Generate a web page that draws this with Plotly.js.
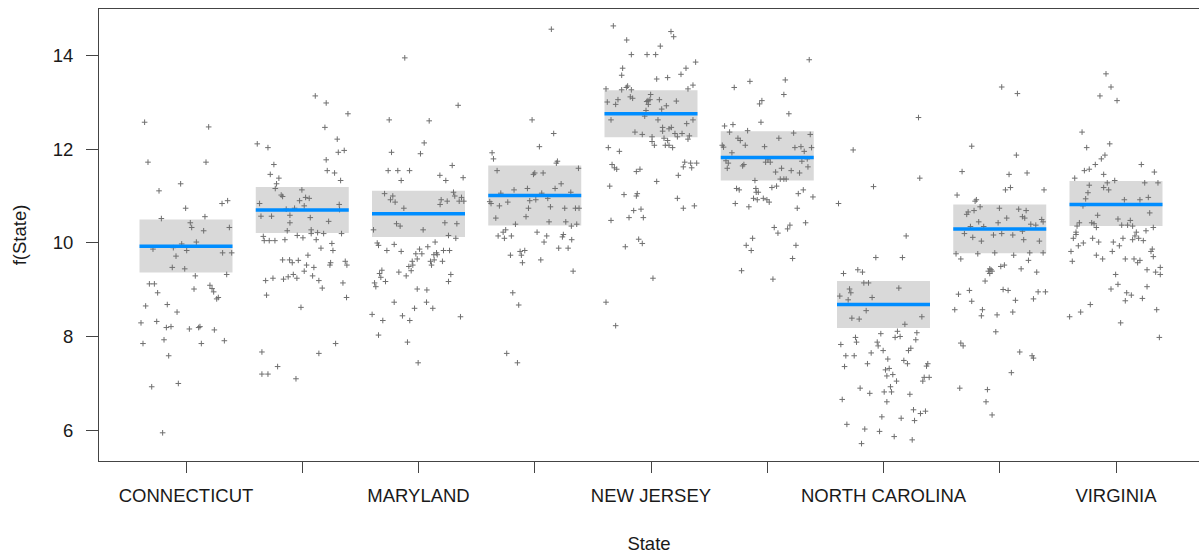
<!DOCTYPE html>
<html>
<head>
<meta charset="utf-8">
<script src="https://cdn.plot.ly/plotly-3.0.1.min.js"></script>
<style>
  html, body { margin: 0; padding: 0; background: #ffffff; }
  #chart { width: 1199px; height: 554px; }
</style>
</head>
<body>
<div id="chart"></div>
<script>
// States on the x axis (only every other name fits under the axis)
const states = ["CONNECTICUT", "DELAWARE", "MARYLAND", "MASSACHUSETTS", "NEW JERSEY",
                "NEW YORK", "NORTH CAROLINA", "PENNSYLVANIA", "VIRGINIA"];
const shownLabel = [true, false, true, false, true, false, true, false, true];

// Fitted effect of State with its confidence band
const fitValues = [9.93, 10.70, 10.62, 11.01, 12.75, 11.82, 8.69, 10.30, 10.82];
const lowerCI   = [9.37, 10.21, 10.13, 10.37, 12.25, 11.33, 8.19, 9.78, 10.36];
const upperCI   = [10.50, 11.19, 11.11, 11.65, 13.25, 12.38, 9.19, 10.82, 11.32];

// Partial residuals per state: horizontal jitter (category units) and value
const dxCT = [-0.356,0.195,-0.327,0.172,-0.046,-0.232,0.310,0.358,-0.003,-0.212,0.163,0.037,0.049,0.152,0.373,0.089,-0.037,-0.284,-0.109,0.006,-0.086,0.315,0.393,-0.118,-0.011,0.350,0.080,-0.315,-0.272,-0.244,0.069,0.206,0.224,0.238,0.264,0.278,-0.347,-0.161,-0.077,-0.387,-0.252,-0.169,-0.129,0.029,0.109,0.120,0.244,-0.370,-0.189,0.132,0.330,-0.149,-0.295,-0.066,-0.201];
const yCT  = [12.57,12.47,11.72,11.72,11.26,11.11,10.84,10.90,10.74,10.52,10.56,10.43,10.33,10.26,10.33,10.02,9.98,9.87,9.90,9.84,9.72,9.79,9.79,9.48,9.45,9.33,9.30,9.13,9.13,8.94,9.02,9.10,9.03,8.96,8.81,8.84,8.66,8.69,8.53,8.30,8.33,8.20,8.22,8.17,8.20,8.22,8.15,7.86,7.94,7.86,7.92,7.60,6.94,7.01,5.96];

const dxDE = [0.112,0.206,0.393,0.195,-0.387,-0.295,0.301,0.310,0.361,0.206,-0.244,-0.275,-0.201,0.215,0.278,0.330,-0.221,-0.232,-0.003,-0.181,-0.169,0.029,0.060,-0.023,-0.367,0.017,0.318,-0.066,-0.138,0.321,-0.355,-0.264,-0.106,0.069,-0.106,0.227,-0.129,0.077,0.077,0.132,0.184,0.338,-0.335,-0.327,-0.284,-0.235,-0.149,-0.043,0.006,0.120,0.255,0.161,0.264,0.049,-0.169,-0.109,-0.086,-0.034,0.244,0.238,0.370,0.384,0.037,0.100,0.017,-0.077,-0.121,-0.046,-0.161,-0.252,-0.315,0.089,0.143,0.172,0.350,-0.307,0.381,-0.011,0.287,-0.347,0.143,-0.212,-0.347,-0.295,-0.054];
const yDE  = [13.13,12.98,12.75,12.46,12.11,12.03,12.21,11.93,11.97,11.77,11.67,11.46,11.38,11.54,11.49,11.33,11.26,11.16,11.13,11.02,10.99,10.97,10.95,10.90,10.84,10.79,10.82,10.74,10.72,10.71,10.57,10.57,10.59,10.54,10.43,10.46,10.26,10.28,10.20,10.22,10.20,10.20,10.14,10.05,10.05,10.05,10.07,10.16,10.11,10.07,9.99,9.89,9.84,9.74,9.64,9.64,9.58,9.63,9.58,9.53,9.61,9.53,9.53,9.48,9.40,9.33,9.28,9.25,9.23,9.25,9.20,9.30,9.20,9.04,9.15,8.89,8.84,8.63,7.86,7.68,7.65,7.37,7.21,7.21,7.11];

const dxMD = [-0.118,0.341,-0.252,0.092,0.049,-0.232,0.017,-0.261,-0.178,-0.077,0.290,0.184,0.235,0.384,-0.149,-0.292,-0.221,-0.241,-0.201,0.301,0.312,0.370,0.195,0.247,0.350,0.390,0.186,-0.126,-0.189,-0.158,0.227,0.330,-0.387,0.040,0.258,0.321,0.143,-0.355,-0.344,-0.209,-0.272,-0.149,0.080,0.009,-0.023,0.029,-0.011,-0.054,0.132,0.155,0.161,0.215,0.267,0.103,0.135,0.206,0.112,-0.049,-0.083,-0.063,-0.315,-0.335,-0.324,-0.169,-0.106,-0.284,-0.378,-0.367,0.278,0.258,-0.011,0.072,-0.209,0.069,-0.034,0.123,-0.399,-0.138,0.361,-0.307,-0.075,-0.344,-0.095,-0.003];
const yMD  = [13.94,12.93,12.62,12.60,12.13,11.93,11.90,11.54,11.54,11.54,11.65,11.44,11.33,11.39,11.33,11.05,11.00,10.92,10.87,11.08,11.00,10.97,10.92,10.89,10.89,10.89,10.82,10.74,10.41,10.36,10.43,10.41,10.28,10.28,10.16,10.10,10.02,10.00,9.95,9.97,9.84,9.82,9.92,9.87,9.77,9.77,9.66,9.61,9.75,9.79,9.75,9.84,9.84,9.61,9.64,9.61,9.53,9.53,9.50,9.41,9.42,9.35,9.27,9.38,9.30,9.18,9.15,9.07,9.33,9.18,9.02,9.00,8.74,8.74,8.61,8.61,8.48,8.45,8.43,8.35,8.35,8.04,7.89,7.45];

const dxMA = [0.143,-0.023,0.163,0.040,-0.367,-0.355,0.195,0.186,0.376,-0.324,-0.011,0.000,0.072,0.227,0.175,-0.063,-0.178,0.310,-0.292,0.060,0.112,0.009,-0.043,-0.387,-0.376,-0.232,-0.304,0.135,-0.054,0.258,0.350,0.381,-0.075,-0.335,-0.166,0.123,0.267,0.361,0.315,-0.250,-0.272,-0.315,-0.261,-0.201,0.020,0.103,0.246,0.238,0.318,0.080,0.206,0.287,-0.086,-0.126,-0.115,-0.209,0.052,-0.106,0.330,-0.189,-0.138,-0.241,-0.149];
const yMA  = [14.55,12.62,12.33,12.05,11.92,11.79,11.74,11.70,11.59,11.54,11.46,11.49,11.49,11.26,11.16,11.16,11.13,11.08,11.06,11.06,10.95,10.92,10.90,10.88,10.84,10.87,10.79,10.77,10.74,10.74,10.74,10.74,10.56,10.53,10.40,10.45,10.45,10.40,10.36,10.28,10.23,10.15,10.10,10.15,10.23,10.15,10.18,10.13,10.07,10.02,9.89,9.89,9.84,9.82,9.74,9.74,9.64,9.58,9.40,8.94,8.68,7.65,7.45];

const dxNJ = [-0.324,0.172,0.195,-0.209,0.080,-0.169,-0.034,0.040,0.384,-0.244,0.301,-0.252,0.258,0.143,0.049,0.361,-0.387,-0.252,-0.212,-0.201,-0.169,0.318,-0.003,-0.178,-0.158,-0.026,-0.009,-0.037,0.072,0.218,-0.376,-0.284,-0.304,-0.023,0.132,0.092,-0.043,-0.054,-0.344,0.060,0.361,0.307,0.100,0.175,0.155,0.100,-0.138,0.206,0.267,-0.075,0.330,0.227,0.009,0.112,0.318,0.143,0.009,0.029,0.123,0.155,0.186,-0.367,-0.272,-0.335,-0.315,-0.295,-0.126,-0.095,0.290,0.341,0.393,0.278,0.350,0.235,0.049,-0.355,-0.232,-0.126,-0.118,0.227,0.373,0.278,-0.149,-0.086,-0.189,-0.066,-0.344,-0.106,-0.075,-0.221,0.017,-0.387,-0.304];
const yNJ  = [14.62,14.50,14.39,14.32,14.19,14.01,14.01,14.01,13.85,13.72,13.72,13.57,13.59,13.52,13.49,13.36,13.28,13.26,13.31,13.34,13.26,13.28,13.16,13.11,13.08,13.03,13.05,13.01,13.05,13.02,13.00,13.05,12.95,12.95,12.92,12.85,12.82,12.70,12.62,12.62,12.62,12.54,12.46,12.46,12.43,12.38,12.36,12.33,12.33,12.31,12.28,12.26,12.26,12.23,12.21,12.18,12.16,12.08,12.08,12.08,12.03,12.03,11.95,11.67,11.60,11.57,11.52,11.57,11.72,11.70,11.70,11.62,11.60,11.44,11.31,11.21,11.03,11.00,11.05,10.95,10.79,10.74,10.69,10.72,10.54,10.54,10.48,10.08,9.99,9.92,9.25,8.74,8.24];

const dxNY = [0.361,-0.149,0.155,-0.284,0.143,-0.046,-0.066,0.186,-0.054,-0.367,-0.295,-0.169,-0.324,0.227,0.370,-0.252,-0.232,0.100,-0.189,-0.387,-0.376,-0.023,0.238,0.290,0.381,0.318,-0.304,0.344,-0.355,-0.335,0.006,-0.014,0.026,0.298,-0.201,-0.212,-0.344,0.350,0.123,0.206,0.072,0.278,0.112,0.143,0.163,-0.106,0.080,0.040,-0.264,-0.241,-0.098,-0.095,-0.077,0.310,0.267,-0.118,-0.086,-0.034,-0.003,0.017,0.393,-0.275,-0.158,0.258,0.330,0.195,0.175,0.060,0.092,-0.126,-0.181,-0.138,0.247,0.218,-0.221,0.049];
const yNY  = [13.90,13.44,13.47,13.31,13.16,13.03,12.96,12.75,12.57,12.49,12.52,12.39,12.36,12.34,12.31,12.23,12.18,12.23,12.08,12.08,12.04,12.05,12.03,12.05,12.03,11.95,11.92,11.79,11.75,11.70,11.77,11.72,11.72,11.74,11.67,11.64,11.59,11.62,11.59,11.54,11.51,11.49,11.36,11.36,11.36,11.33,11.21,11.18,11.16,11.13,11.16,11.08,11.08,11.13,11.05,10.95,10.92,10.95,10.92,10.87,10.98,10.84,10.77,10.74,10.43,10.38,10.30,10.33,10.21,10.10,9.95,9.84,9.95,9.67,9.41,9.23];

const dxNC = [0.301,-0.261,0.312,-0.086,-0.387,0.195,-0.066,0.163,-0.344,-0.221,-0.181,-0.169,-0.129,0.132,-0.292,-0.281,-0.376,-0.098,-0.304,-0.149,0.330,-0.272,-0.209,0.184,0.120,0.287,-0.023,0.143,0.100,-0.241,0.278,-0.367,-0.232,-0.054,-0.046,0.235,0.215,-0.003,-0.106,-0.324,-0.252,0.037,0.175,0.206,-0.138,-0.335,0.381,0.370,0.017,0.049,0.080,0.029,0.350,0.393,0.338,0.112,0.060,-0.201,0.006,0.069,-0.118,0.227,-0.355,0.029,0.258,0.318,0.361,-0.014,0.152,0.267,-0.315,-0.161,-0.034,0.092,0.247,-0.189];
const yNC  = [12.67,11.98,11.38,11.20,10.84,10.15,9.69,9.69,9.35,9.43,9.38,9.15,9.15,9.04,9.02,8.94,8.87,8.84,8.79,8.56,8.43,8.40,8.38,8.27,8.12,8.09,8.07,8.01,7.99,7.99,7.94,7.84,7.89,7.89,7.81,7.76,7.71,7.71,7.66,7.60,7.60,7.53,7.50,7.43,7.43,7.37,7.43,7.38,7.30,7.33,7.20,7.17,7.14,7.14,7.06,7.06,6.94,6.91,6.83,6.83,6.80,6.78,6.67,6.62,6.45,6.37,6.42,6.30,6.27,6.22,6.14,6.04,5.99,5.88,5.81,5.73];

const dxPA = [0.017,0.152,-0.241,0.143,-0.324,0.080,0.235,0.049,0.092,0.381,-0.367,-0.212,-0.201,-0.169,-0.003,0.163,0.227,-0.272,-0.284,-0.221,0.195,0.215,0.060,0.361,0.373,-0.181,-0.014,0.267,0.310,-0.252,-0.138,0.195,-0.304,-0.054,0.017,0.112,-0.232,0.206,-0.158,0.341,-0.376,-0.189,-0.043,0.120,0.258,0.373,-0.335,0.247,0.009,0.040,0.184,-0.086,-0.075,-0.098,-0.066,-0.086,0.318,-0.126,0.029,0.072,-0.261,0.330,0.393,-0.355,0.135,0.290,-0.241,-0.387,-0.149,0.112,-0.023,-0.158,-0.034,-0.335,-0.315,0.172,0.278,0.290,0.100,-0.344,-0.106,-0.118,-0.066];
const yPA  = [13.32,13.18,12.06,11.87,11.52,11.46,11.49,11.13,11.18,11.13,11.02,10.89,10.92,10.77,10.74,10.72,10.69,10.66,10.61,10.69,10.56,10.53,10.53,10.50,10.45,10.45,10.43,10.40,10.38,10.35,10.35,10.25,10.20,10.17,10.20,10.17,10.12,10.07,10.04,10.04,9.77,9.77,9.79,9.74,9.79,9.79,9.66,9.63,9.50,9.53,9.45,9.45,9.43,9.40,9.40,9.35,9.38,9.19,9.01,8.99,8.99,8.96,8.96,8.91,8.78,8.81,8.76,8.58,8.58,8.53,8.47,8.45,8.11,7.87,7.81,7.68,7.60,7.55,7.24,6.91,6.88,6.62,6.34];

const dxVA = [-0.086,-0.043,-0.138,0.009,-0.292,-0.054,-0.252,-0.095,-0.126,-0.178,0.218,-0.230,-0.272,0.330,-0.106,-0.355,-0.011,-0.075,0.247,0.361,-0.230,-0.106,-0.063,-0.241,0.278,-0.261,0.072,0.206,-0.284,0.290,-0.158,0.017,0.123,-0.315,-0.209,-0.189,0.049,0.100,0.143,-0.335,-0.169,0.321,0.258,-0.344,-0.344,0.175,0.163,-0.367,-0.201,0.060,0.143,0.195,0.235,-0.149,-0.023,-0.281,-0.324,0.029,0.312,0.301,-0.387,-0.032,-0.169,0.321,-0.115,0.080,0.155,0.206,0.186,-0.376,0.381,0.267,0.341,0.381,-0.003,0.017,-0.043,0.267,0.092,0.132,0.227,0.080,-0.221,0.350,-0.304,-0.399,0.040,0.373];
const yVA  = [13.60,13.32,13.13,13.03,12.36,12.11,12.03,11.87,11.79,11.67,11.67,11.57,11.54,11.51,11.46,11.38,11.33,11.28,11.28,11.28,11.23,11.18,11.13,11.07,10.97,10.94,10.92,10.92,10.79,10.64,10.59,10.51,10.48,10.43,10.43,10.41,10.38,10.38,10.36,10.36,10.33,10.33,10.26,10.23,10.18,10.23,10.15,10.10,10.10,10.10,10.07,10.10,10.05,10.02,10.02,10.00,9.94,9.94,9.87,9.82,9.82,9.82,9.74,9.71,9.66,9.66,9.66,9.63,9.58,9.61,9.48,9.43,9.38,9.33,9.33,9.12,9.02,9.07,8.94,8.89,8.82,8.77,8.69,8.58,8.53,8.43,8.30,7.99];

const jitterByState = [dxCT, dxDE, dxMD, dxMA, dxNJ, dxNY, dxNC, dxPA, dxVA];
const residByState  = [yCT, yDE, yMD, yMA, yNJ, yNY, yNC, yPA, yVA];

const halfWidth = 0.4;
const fontFamily = '"Liberation Sans", Arial, Helvetica, sans-serif';
const textColor = '#1a1a1a';
const axisColor = '#444444';

// Residual points, placed at category position plus jitter
const px = [], py = [];
residByState.forEach((ys, i) => {
  ys.forEach((v, j) => { px.push(i + 1 + jitterByState[i][j]); py.push(v); });
});

// Fitted line segments across each category
const lx = [], ly = [];
fitValues.forEach((v, i) => {
  lx.push(i + 1 - halfWidth, i + 1 + halfWidth, null);
  ly.push(v, v, null);
});

// Confidence bands as grey rectangles behind everything
const bands = fitValues.map((v, i) => ({
  type: 'rect', xref: 'x', yref: 'y', layer: 'below',
  x0: i + 1 - halfWidth, x1: i + 1 + halfWidth,
  y0: lowerCI[i], y1: upperCI[i],
  fillcolor: '#D9D9D9', line: { width: 0 }
}));

const traces = [
  {
    type: 'scatter', mode: 'markers', x: px, y: py, hoverinfo: 'skip',
    marker: { symbol: 'cross-thin-open', size: 4, color: '#6f6f6f',
              line: { color: '#6f6f6f', width: 1 } }
  },
  {
    type: 'scatter', mode: 'lines', x: lx, y: ly, hoverinfo: 'skip',
    line: { color: '#008DFF', width: 3.5 }
  }
];

const layout = {
  width: 1199, height: 554,
  margin: { l: 99, r: 0, t: 9, b: 93 },
  paper_bgcolor: '#ffffff', plot_bgcolor: '#ffffff',
  showlegend: false,
  font: { family: fontFamily, size: 18.5, color: textColor },
  shapes: bands,
  xaxis: {
    range: [0.2516, 9.714],
    tickmode: 'array',
    tickvals: states.map((s, i) => i + 1),
    ticktext: states.map((s, i) => shownLabel[i] ? s : ''),
    ticks: 'outside', ticklen: 11, tickwidth: 1, tickcolor: axisColor,
    ticklabelstandoff: 7,
    showline: true, linecolor: axisColor, linewidth: 1, mirror: true,
    showgrid: false, zeroline: false,
    tickfont: { size: 18.5, color: textColor },
    title: { text: 'State', standoff: 31, font: { size: 18.5, color: textColor } }
  },
  yaxis: {
    range: [5.36, 14.98],
    tickmode: 'array', tickvals: [6, 8, 10, 12, 14],
    ticks: 'outside', ticklen: 12, tickwidth: 1, tickcolor: axisColor,
    ticklabelstandoff: 9,
    showline: true, linecolor: axisColor, linewidth: 1,
    showgrid: false, zeroline: false,
    tickfont: { size: 18.5, color: textColor },
    title: { text: 'f(State)', standoff: 21, font: { size: 18.5, color: textColor } }
  }
};

Plotly.newPlot('chart', traces, layout, { staticPlot: true, displayModeBar: false });
</script>
</body>
</html>
